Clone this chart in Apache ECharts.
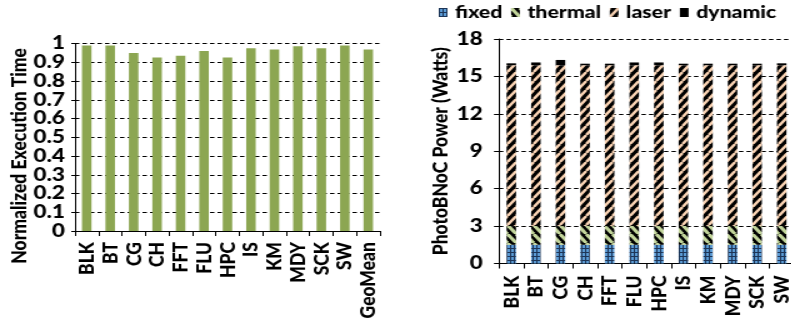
<!DOCTYPE html>
<html>
<head>
<meta charset="utf-8">
<script src="https://cdn.jsdelivr.net/npm/echarts@6/dist/echarts.min.js"></script>
<style>
html,body{margin:0;padding:0;background:#fff;overflow:hidden;}
#c{width:700px;height:325px;transform:scaleX(1.25);transform-origin:0 0;}
</style>
</head>
<body>
<div id="c"></div>
<script>
// ---- data ----
const leftCategories = ['BLK','BT','CG','CH','FFT','FLU','HPC','IS','KM','MDY','SCK','SW','GeoMean'];
const execTime = [0.99,0.99,0.95,0.925,0.935,0.96,0.925,0.975,0.968,0.985,0.975,0.99,0.968];
const leftTicks = [0,0.1,0.2,0.3,0.4,0.5,0.6,0.7,0.8,0.9,1];

const rightCategories = ['BLK','BT','CG','CH','FFT','FLU','HPC','IS','KM','MDY','SCK','SW'];
const fixedPower   = [1.5,1.5,1.5,1.5,1.5,1.5,1.5,1.5,1.5,1.5,1.5,1.5];
const thermalPower = [1.5,1.5,1.5,1.5,1.5,1.5,1.5,1.5,1.5,1.5,1.5,1.5];
const laserPower   = [12.9,12.9,12.9,12.9,12.9,12.9,12.9,12.9,12.9,12.9,12.9,12.9];
const dynamicPower = [0.15,0.22,0.42,0.12,0.12,0.22,0.22,0.12,0.12,0.12,0.12,0.15];
const rightTicks = [0,3,6,9,12,15,18];

// ---- patterns ----
function stripes(w, h, bg, fg, lw, dir){
  const c = document.createElement('canvas');
  c.width = w; c.height = h;
  const g = c.getContext('2d');
  g.fillStyle = bg; g.fillRect(0,0,w,h);
  g.strokeStyle = fg; g.lineWidth = lw;
  for (let k=-1;k<=1;k++){
    g.beginPath();
    if (dir === '/') { g.moveTo(k*w, h); g.lineTo(k*w+w, 0); }
    else { g.moveTo(k*w, 0); g.lineTo(k*w+w, h); }
    g.stroke();
  }
  return {image:c, repeat:'repeat'};
}
function gridPat(w, h, bg, fg){
  const c = document.createElement('canvas');
  c.width = w; c.height = h;
  const g = c.getContext('2d');
  g.fillStyle = bg; g.fillRect(0,0,w,h);
  g.fillStyle = fg;
  g.fillRect(0,0,w,1); g.fillRect(0,0,1,h);
  return {image:c, repeat:'repeat'};
}
const fixedPat = gridPat(3, 4, '#5B9BD5', '#1d3557');
const thermalPat = stripes(7, 9, '#000', '#C3D69B', 3, '\\');
const laserPat = stripes(7, 9, '#000', '#FBD4B4', 2.4, '/');

const FONT = 'Lato';
const lbl = {fontFamily:FONT, fontWeight:900, color:'#000'};
const dashed = {show:true, lineStyle:{color:'#000', type:[3.5,2.5], width:1}};

const chart = echarts.init(document.getElementById('c'), null, {renderer:'canvas'});
chart.setOption({
  animation:false,
  legend:{
    data:['fixed','thermal','laser','dynamic'],
    icon:'rect', orient:'horizontal',
    left:346, top:-1, width:340, itemWidth:7, itemHeight:9, itemGap:7,
    textStyle:{fontFamily:FONT, fontWeight:900, color:'#000', fontSize:17, padding:[0,0,0,1]}
  },
  grid:[
    {left:60, top:43.5, width:244, height:187.5},
    {left:399.2, top:39, width:236, height:224.5}
  ],
  xAxis:[
    {gridIndex:0, type:'category', data:leftCategories,
     axisLine:{lineStyle:{color:'#000', width:1}},
     axisTick:{show:true, length:5, lineStyle:{color:'#000'}},
     axisLabel:Object.assign({rotate:90, fontSize:17.5, margin:11, interval:0}, lbl)},
    {gridIndex:1, type:'category', data:rightCategories,
     axisLine:{lineStyle:{color:'#000', width:1}},
     axisTick:{show:true, length:5, lineStyle:{color:'#000'}},
     axisLabel:Object.assign({rotate:90, fontSize:17.5, margin:12, interval:0}, lbl)}
  ],
  yAxis:[
    {gridIndex:0, type:'value', min:leftTicks[0], max:leftTicks[leftTicks.length-1], interval:0.1,
     axisLine:{show:true, lineStyle:{color:'#000'}},
     axisTick:{show:true, length:3, lineStyle:{color:'#000'}},
     axisLabel:Object.assign({fontSize:18, margin:8}, lbl),
     splitLine:dashed},
    {gridIndex:1, type:'value', min:rightTicks[0], max:rightTicks[rightTicks.length-1], interval:3,
     name:'PhotoBNoC Power (Watts)', nameLocation:'middle', nameGap:30,
     nameTextStyle:Object.assign({fontSize:17.5}, lbl),
     axisLine:{show:true, lineStyle:{color:'#000'}},
     axisTick:{show:true, length:4, lineStyle:{color:'#000'}},
     axisLabel:Object.assign({fontSize:18, margin:13}, lbl),
     splitLine:dashed}
  ],
  graphic:[
    {type:'text', left:6, top:48, rotation:Math.PI/2,
     style:{text:'Normalized Execution Time', fontSize:17.5, fill:'#000',
       fontFamily:FONT, fontWeight:900}}
  ],
  series:[
    {type:'bar', xAxisIndex:0, yAxisIndex:0, data:execTime, barWidth:7.6,
     itemStyle:{color:'#8CA652'}},
    {name:'fixed', type:'bar', stack:'p', xAxisIndex:1, yAxisIndex:1, data:fixedPower, barWidth:7.6,
     itemStyle:{color:fixedPat}},
    {name:'thermal', type:'bar', stack:'p', xAxisIndex:1, yAxisIndex:1, data:thermalPower, barWidth:7.6,
     itemStyle:{color:thermalPat}},
    {name:'laser', type:'bar', stack:'p', xAxisIndex:1, yAxisIndex:1, data:laserPower, barWidth:7.6,
     itemStyle:{color:laserPat}},
    {name:'dynamic', type:'bar', stack:'p', xAxisIndex:1, yAxisIndex:1, data:dynamicPower, barWidth:7.6,
     itemStyle:{color:'#000'}}
  ]
});
</script>
</body>
</html>
